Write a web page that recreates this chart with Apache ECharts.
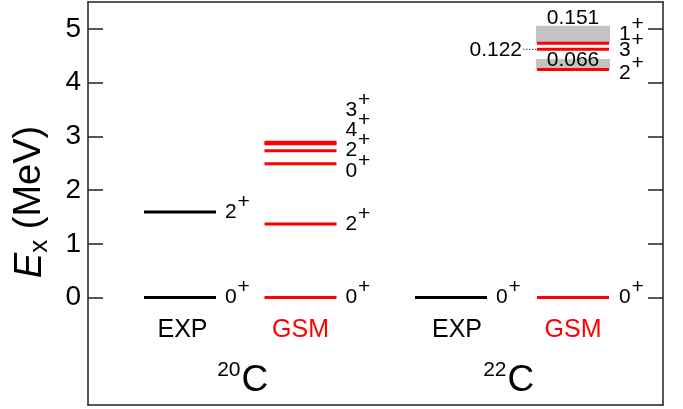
<!DOCTYPE html>
<html>
<head>
<meta charset="utf-8">
<script src="https://cdn.jsdelivr.net/npm/echarts@6/dist/echarts.min.js"></script>
<style>
html,body{margin:0;padding:0;background:#fff;}
#main{width:683px;height:409px;}
</style>
</head>
<body>
<div id="main"></div>
<script>
// ---------------- data ----------------
const nuclei = ['20', '22'];
const methods = ['EXP', 'GSM', 'EXP', 'GSM'];
const yTicks = [0, 1, 2, 3, 4, 5];

const exp20C = [0, 1.59];
const exp20CSpin = ['0', '2'];
const gsm20C = [0, 1.37, 2.49, 2.73, 2.86, 2.89];
const gsm20CSpin = ['0', '2', '0', '2', '4', '3'];
const exp22C = [0];
const exp22CSpin = ['0'];
const gsm22C = [0, 4.243, 4.62, 4.73];
const gsm22CSpin = ['0', '2', '3', '1'];
const gsm22CWidthLabel = ['0.066', '0.122', '0.151'];
const gsm22CBoxLow = [4.243, 4.73];
const gsm22CBoxHigh = [4.44, 5.06];

// ---------------- layout (x in axis units, label energies) ----------------
const F = '"Liberation Sans", Arial, Helvetica, sans-serif';
const HALF = 36;
const colCenter = [92, 212.5, 363, 485];
const colLabelOff = [45, 45, 45, 46];
const gsm20CLabelE = [0, 1.37, 2.355, 2.745, 3.117, 3.49];
const gsm22CLabelE = [0, 4.18, 4.60, 4.90];
const methodTextX = [94.5, 212.5, 369, 485];
const methodTextE = -0.605;
const nucleusSplitX = [153.5, 419.5];

const RED = '#ff0000';
const levelItems = [];
function addLevels(col, energies, spins, labelE, color) {
  energies.forEach((E, i) => levelItems.push({
    xc: colCenter[col], E: E, J: spins[i], LE: labelE ? labelE[i] : E,
    lo: colLabelOff[col], color: color
  }));
}
addLevels(0, exp20C, exp20CSpin, null, '#000');
addLevels(1, gsm20C, gsm20CSpin, gsm20CLabelE, RED);
addLevels(2, exp22C, exp22CSpin, null, '#000');
addLevels(3, gsm22C, gsm22CSpin, gsm22CLabelE, RED);

const boxItems = gsm22CBoxLow.map((lo, i) => ({ xc: colCenter[3], lo: lo, hi: gsm22CBoxHigh[i] }));

const textItems = [];
methods.forEach((m, i) => textItems.push({ x: methodTextX[i], E: methodTextE, kind: 'method', text: m, color: (m === 'GSM') ? RED : '#000' }));
nuclei.forEach((a, i) => textItems.push({ x: nucleusSplitX[i], E: -1.55, kind: 'nucleus', text: a }));
textItems.push({ x: colCenter[3], E: 4.42, kind: 'center', text: gsm22CWidthLabel[0] });
textItems.push({ x: 434, E: 4.605, kind: 'right', text: gsm22CWidthLabel[1], leaderTo: colCenter[3] - HALF, leaderE: 4.62 });
textItems.push({ x: colCenter[3], E: 5.19, kind: 'center', text: gsm22CWidthLabel[2] });

const chart = echarts.init(document.getElementById('main'), null, { renderer: 'canvas' });

const axisLineStyle = { color: '#222', width: 1.5 };
const SPIN_FS = 21;

const option = {
  animation: false,
  backgroundColor: '#fff',
  grid: { left: 88, right: 20, top: 2, bottom: 4, containLabel: false },
  xAxis: [
    { type: 'value', min: 0, max: 575, position: 'bottom',
      axisLine: { show: true, onZero: false, lineStyle: axisLineStyle }, axisTick: { show: false },
      axisLabel: { show: false }, splitLine: { show: false } },
    { type: 'value', min: 0, max: 575, position: 'top',
      axisLine: { show: true, onZero: false, lineStyle: axisLineStyle }, axisTick: { show: false },
      axisLabel: { show: false }, splitLine: { show: false } }
  ],
  yAxis: [
    { type: 'value', min: -2, max: 5.5, position: 'left',
      axisLine: { show: true, onZero: false, lineStyle: axisLineStyle },
      axisTick: { show: true, inside: true, length: 15, customValues: yTicks, lineStyle: { color: '#222', width: 1.5 } },
      axisLabel: { show: true, customValues: yTicks, fontSize: 28, fontFamily: F, color: '#000', margin: 7 },
      splitLine: { show: false } },
    { type: 'value', min: -2, max: 5.5, position: 'right',
      axisLine: { show: true, onZero: false, lineStyle: axisLineStyle },
      axisTick: { show: true, inside: true, length: 15, customValues: yTicks, lineStyle: { color: '#222', width: 1.5 } },
      axisLabel: { show: false },
      splitLine: { show: false } }
  ],
  graphic: [{
    type: 'text', x: 30, y: 202, rotation: Math.PI / 2,
    style: {
      text: '{i|E}{s|x}{n| (MeV)}',
      align: 'center', verticalAlign: 'middle', fill: '#000',
      rich: {
        i: { fontSize: 38, fontStyle: 'italic', fontFamily: F, lineHeight: 46, fill: '#000' },
        s: { fontSize: 26, fontFamily: F, lineHeight: 26, verticalAlign: 'bottom', fill: '#000' },
        n: { fontSize: 38, fontFamily: F, lineHeight: 46, fill: '#000' }
      }
    }
  }],
  series: [
    {
      type: 'custom', name: 'widths', xAxisIndex: 0, yAxisIndex: 0, z: 1,
      data: boxItems.map(b => [b.xc, b.lo]),
      renderItem: function (params, api) {
        const b = boxItems[params.dataIndex];
        const p1 = api.coord([b.xc - HALF - 1, b.hi]);
        const p2 = api.coord([b.xc + HALF + 1, b.lo]);
        return { type: 'rect', shape: { x: p1[0], y: p1[1], width: p2[0] - p1[0], height: p2[1] - p1[1] },
                 style: { fill: '#c3c3c3' } };
      }
    },
    {
      type: 'custom', name: 'levels', xAxisIndex: 0, yAxisIndex: 0, z: 2,
      data: levelItems.map(d => [d.xc, d.E]),
      renderItem: function (params, api) {
        const d = levelItems[params.dataIndex];
        const p1 = api.coord([d.xc - HALF, d.E]);
        const p2 = api.coord([d.xc + HALF, d.E]);
        const pl = api.coord([d.xc + d.lo, d.LE]);
        return { type: 'group', children: [
          { type: 'line', shape: { x1: p1[0], y1: p1[1], x2: p2[0], y2: p2[1] },
            style: { stroke: d.color, lineWidth: 3 } },
          { type: 'text', x: pl[0], y: pl[1],
            style: { text: d.J, fontSize: SPIN_FS, fontFamily: F, fill: '#000', align: 'left', verticalAlign: 'middle' } },
          { type: 'text', x: pl[0] + 12.5, y: pl[1] - 10,
            style: { text: '+', fontSize: SPIN_FS, fontFamily: F, fill: '#000', align: 'left', verticalAlign: 'middle' } }
        ] };
      }
    },
    {
      type: 'custom', name: 'texts', xAxisIndex: 0, yAxisIndex: 0, z: 3,
      data: textItems.map(t => [t.x, t.E]),
      renderItem: function (params, api) {
        const t = textItems[params.dataIndex];
        const p = api.coord([t.x, t.E]);
        if (t.kind === 'method') {
          return { type: 'text', x: p[0], y: p[1],
            style: { text: t.text, fontSize: 25, fontFamily: F, fill: t.color, align: 'center', verticalAlign: 'middle' } };
        }
        if (t.kind === 'nucleus') {
          return { type: 'group', children: [
            { type: 'text', x: p[0] - 1, y: p[1] - 11,
              style: { text: t.text, fontSize: 21, fontFamily: F, fill: '#000', align: 'right', verticalAlign: 'middle' } },
            { type: 'text', x: p[0], y: p[1],
              style: { text: 'C', fontSize: 37, fontFamily: F, fill: '#000', align: 'left', verticalAlign: 'middle' } }
          ] };
        }
        if (t.kind === 'center') {
          return { type: 'text', x: p[0], y: p[1],
            style: { text: t.text, fontSize: 21, fontFamily: F, fill: '#000', align: 'center', verticalAlign: 'middle' } };
        }
        const q1 = api.coord([t.x + 1, t.leaderE]);
        const q2 = api.coord([t.leaderTo, t.leaderE]);
        return { type: 'group', children: [
          { type: 'text', x: p[0], y: p[1],
            style: { text: t.text, fontSize: 21, fontFamily: F, fill: '#000', align: 'right', verticalAlign: 'middle' } },
          { type: 'line', shape: { x1: q1[0], y1: q1[1], x2: q2[0], y2: q2[1] },
            style: { stroke: '#333', lineWidth: 1, lineDash: [1.5, 1.5] } }
        ] };
      }
    }
  ]
};
chart.setOption(option);
</script>
</body>
</html>
